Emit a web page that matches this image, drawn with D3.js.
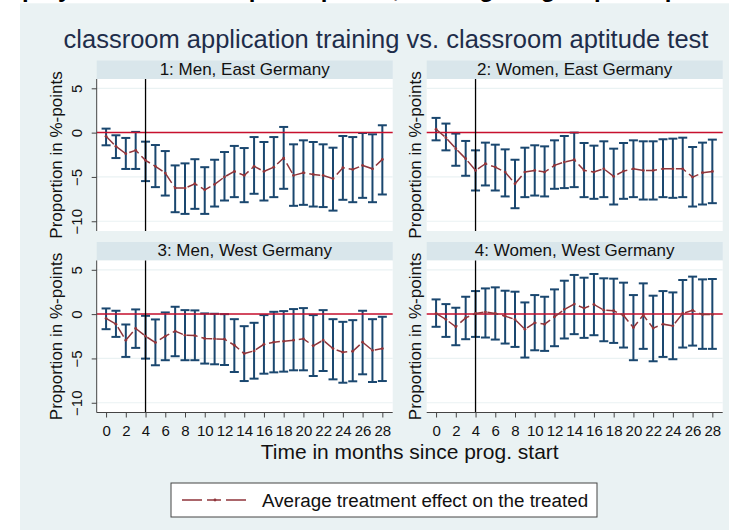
<!DOCTYPE html>
<html>
<head>
<meta charset="utf-8">
<script src="https://cdn.jsdelivr.net/npm/d3@7/dist/d3.min.js"></script>
<style>
  body { margin: 0; background: #fff; }
  svg { display: block; font-family: "Liberation Sans", Arial, sans-serif; }
</style>
</head>
<body>
<svg id="chart" width="729" height="530"></svg>
<script>
// months since programme start
const months = [0, 1, 2, 3, 4, 5, 6, 7, 8, 9, 10, 11, 12, 13, 14, 15, 16, 17, 18, 19, 20, 21, 22, 23, 24, 25, 26, 27, 28];
const xTicks = [0, 2, 4, 6, 8, 10, 12, 14, 16, 18, 20, 22, 24, 26, 28];
const yTicks = [5, 0, -5, -10];

// 1: Men, East Germany
const menEastAtt = [-0.42, -1.55, -2.38, -2.0, -3.13, -3.8, -4.57, -6.26, -6.26, -5.77, -6.45, -5.85, -5.0, -4.38, -4.83, -3.8, -4.38, -3.9, -2.87, -4.83, -4.53, -4.72, -4.83, -5.2, -3.96, -4.15, -3.7, -4.08, -3.02];
const menEastHi = [0.45, -0.3, -0.6, 0.08, -1.02, -1.4, -2.08, -3.7, -3.47, -3.0, -3.9, -3.06, -2.19, -1.5, -1.74, -0.5, -1.06, -0.5, 0.64, -1.32, -0.87, -1.06, -1.32, -1.7, -0.38, -0.5, -0.04, -0.19, 0.83];
const menEastLo = [-1.43, -2.87, -4.1, -4.1, -5.47, -6.15, -7.1, -8.98, -9.17, -8.6, -9.17, -8.34, -7.66, -7.28, -7.85, -6.9, -7.66, -7.28, -6.34, -8.26, -8.15, -8.34, -8.4, -8.8, -7.58, -7.85, -7.36, -7.85, -6.98];

// 2: Women, East Germany
const womenEastAtt = [0.38, -0.57, -1.81, -2.94, -4.26, -3.51, -3.89, -4.45, -5.77, -4.45, -4.26, -4.45, -3.7, -3.32, -3.06, -4.26, -4.45, -4.08, -4.94, -4.34, -4.08, -4.26, -4.26, -4.08, -4.08, -4.08, -5.02, -4.53, -4.38];
const womenEastHi = [1.66, 1.02, -0.11, -0.94, -2.0, -1.13, -1.36, -1.89, -3.06, -1.7, -1.43, -1.55, -0.87, -0.38, 0.0, -1.17, -1.47, -0.98, -1.81, -1.17, -0.87, -0.98, -0.98, -0.75, -0.68, -0.57, -1.62, -1.13, -0.79];
const womenEastLo = [-0.87, -2.0, -3.74, -4.87, -6.53, -5.96, -6.53, -7.2, -8.53, -7.28, -7.1, -7.2, -6.34, -6.26, -6.15, -7.28, -7.47, -7.28, -8.11, -7.47, -7.28, -7.55, -7.55, -7.28, -7.36, -7.28, -8.34, -8.11, -7.96];

// 3: Men, West Germany
const menWestAtt = [-0.49, -1.13, -2.94, -1.62, -2.49, -3.21, -2.49, -1.92, -2.38, -2.42, -2.75, -2.79, -2.83, -3.51, -4.45, -4.15, -3.4, -3.17, -3.06, -2.94, -2.79, -3.58, -2.94, -3.89, -4.3, -4.19, -3.17, -4.08, -3.89];
const menWestHi = [0.64, 0.38, -1.17, 0.53, -0.19, -0.6, 0.19, 0.83, 0.45, 0.42, 0.08, 0.04, 0.0, -0.57, -1.36, -0.98, -0.11, 0.26, 0.34, 0.57, 0.68, -0.11, 0.45, -0.57, -0.87, -0.68, 0.38, -0.57, -0.3];
const menWestLo = [-1.7, -2.57, -4.83, -3.81, -5.02, -5.77, -5.2, -4.75, -5.2, -5.2, -5.58, -5.66, -5.74, -6.53, -7.55, -7.28, -6.72, -6.57, -6.49, -6.34, -6.34, -6.98, -6.42, -7.36, -7.74, -7.58, -6.79, -7.66, -7.55];

// 4: Women, West Germany
const womenWestAtt = [0.08, -0.6, -1.43, -0.42, 0.08, 0.23, 0.08, -0.23, -0.6, -1.7, -0.98, -1.13, -0.3, 0.53, 1.13, 0.68, 1.09, 0.45, 0.38, -0.15, -1.51, -0.11, -1.58, -1.13, -1.32, 0.08, 0.42, -0.04, -0.04];
const womenWestHi = [1.66, 1.13, 0.72, 1.96, 2.6, 2.9, 3.02, 2.64, 2.53, 1.32, 2.15, 1.96, 2.79, 3.77, 4.42, 4.11, 4.53, 4.04, 4.0, 3.55, 2.15, 3.47, 2.08, 2.6, 2.45, 3.85, 4.23, 3.92, 3.96];
const womenWestLo = [-1.43, -2.57, -3.51, -2.83, -2.57, -2.64, -2.87, -3.32, -3.7, -4.9, -4.08, -4.15, -3.62, -2.75, -2.26, -2.68, -2.38, -3.06, -3.25, -3.77, -5.2, -3.92, -5.32, -4.83, -5.09, -3.77, -3.55, -3.92, -3.92];

const panelTitles = ['1: Men, East Germany', '2: Women, East Germany', '3: Men, West Germany', '4: Women, West Germany'];
const programmeMonth = 4;

const BG = '#eaf2f3';
const STRIP = '#d9e6eb';
const NAVY = '#1a476f';
const MAROON = '#90353b';
const ZERO_RED = '#c8102e';

const PANEL_W = 296;
const PLOT_H = 152;
const STRIP_H = 18.5;
const colLeft = [96.7, 426.7];
const rowTop = [79, 260.5];

const svg = d3.select('#chart');

svg.append('rect')
   .attr('x', 20).attr('y', 3.3)
   .attr('width', 709).attr('height', 527)
   .attr('fill', BG);

// heading of the page above the figure, cut off by the crop
svg.append('text')
   .attr('x', 386).attr('y', -3.5)
   .attr('text-anchor', 'middle')
   .attr('font-size', 24).attr('font-weight', 'bold')
   .attr('fill', '#000')
   .text('Employment effects of participation, training vs. group comparison up');

svg.append('text')
   .attr('x', 386).attr('y', 48)
   .attr('text-anchor', 'middle')
   .attr('font-size', 25.5)
   .attr('fill', '#1e2d4a')
   .text('classroom application training vs. classroom aptitude test');

const x = d3.scaleLinear().domain([-0.95, 29.05]).range([0, PANEL_W]);
const y = d3.scaleLinear().domain([-11.1, 6.05]).range([PLOT_H, 0]);

const panels = [
  {title: panelTitles[0], att: menEastAtt, lo: menEastLo, hi: menEastHi, col: 0, row: 0},
  {title: panelTitles[1], att: womenEastAtt, lo: womenEastLo, hi: womenEastHi, col: 1, row: 0},
  {title: panelTitles[2], att: menWestAtt, lo: menWestLo, hi: menWestHi, col: 0, row: 1},
  {title: panelTitles[3], att: womenWestAtt, lo: womenWestLo, hi: womenWestHi, col: 1, row: 1},
];

function drawPanel(p) {
  const g = svg.append('g')
               .attr('transform', 'translate(' + colLeft[p.col] + ',' + rowTop[p.row] + ')');
  const rows = months.map((m, i) => ({m: m, att: p.att[i], lo: p.lo[i], hi: p.hi[i]}));

  // strip
  g.append('rect')
   .attr('x', 0).attr('y', -STRIP_H)
   .attr('width', PANEL_W).attr('height', STRIP_H)
   .attr('fill', STRIP);
  g.append('text')
   .attr('x', PANEL_W / 2).attr('y', -4.5)
   .attr('text-anchor', 'middle')
   .attr('font-size', 17)
   .attr('fill', '#111')
   .text(p.title);

  g.append('rect')
   .attr('width', PANEL_W).attr('height', PLOT_H)
   .attr('fill', '#fff');

  g.selectAll('.grid')
   .data(yTicks)
   .enter()
   .append('line')
   .attr('class', 'grid')
   .attr('x1', 0).attr('x2', PANEL_W)
   .attr('y1', (d) => y(d)).attr('y2', (d) => y(d))
   .attr('stroke', BG).attr('stroke-width', 1.2);

  // confidence intervals
  const bars = g.selectAll('.ci')
                .data(rows)
                .enter()
                .append('g')
                .attr('class', 'ci')
                .attr('stroke', NAVY)
                .attr('stroke-width', 2);
  bars.append('line')
      .attr('x1', (d) => x(d.m)).attr('x2', (d) => x(d.m))
      .attr('y1', (d) => y(d.hi)).attr('y2', (d) => y(d.lo));
  bars.append('line')
      .attr('x1', (d) => x(d.m) - 4.5).attr('x2', (d) => x(d.m) + 4.5)
      .attr('y1', (d) => y(d.hi)).attr('y2', (d) => y(d.hi));
  bars.append('line')
      .attr('x1', (d) => x(d.m) - 4.5).attr('x2', (d) => x(d.m) + 4.5)
      .attr('y1', (d) => y(d.lo)).attr('y2', (d) => y(d.lo));

  g.append('line')
   .attr('x1', 0).attr('x2', PANEL_W)
   .attr('y1', y(0)).attr('y2', y(0))
   .attr('stroke', ZERO_RED).attr('stroke-width', 1.5);
  g.append('line')
   .attr('x1', x(programmeMonth)).attr('x2', x(programmeMonth))
   .attr('y1', 0).attr('y2', PLOT_H)
   .attr('stroke', '#000').attr('stroke-width', 1.3);

  const line = d3.line().x((d) => x(d.m)).y((d) => y(d.att));
  g.append('path')
   .datum(rows)
   .attr('d', line)
   .attr('fill', 'none')
   .attr('stroke', MAROON)
   .attr('stroke-width', 1.5)
   .attr('stroke-dasharray', '11,4');
  g.selectAll('.pt')
   .data(rows)
   .enter()
   .append('circle')
   .attr('class', 'pt')
   .attr('cx', (d) => x(d.m)).attr('cy', (d) => y(d.att))
   .attr('r', 1.4)
   .attr('fill', MAROON);

  drawAxes(g, p);
}

function drawAxes(g, p) {
  const titleX = p.col == 0 ? -35 : -5.7;
  g.append('text')
   .attr('transform', 'translate(' + titleX + ',' + (PLOT_H / 2) + ') rotate(-90)')
   .attr('text-anchor', 'middle')
   .attr('font-size', 17)
   .attr('fill', '#111')
   .text('Proportion in %-points');

  if (p.col == 0) {
    const yAxis = g.append('g')
                   .call(d3.axisLeft(y).tickValues(yTicks).tickSize(5).tickPadding(3)
                           .tickFormat(d3.format('d')));
    yAxis.select('.domain').attr('d', 'M0,0V' + PLOT_H).attr('stroke', '#444');
    yAxis.selectAll('.tick line').attr('stroke', '#444');
    yAxis.selectAll('.tick text')
         .attr('transform', 'rotate(-90)')
         .attr('x', 0).attr('y', -14.5)
         .attr('dy', 0)
         .attr('text-anchor', 'middle')
         .attr('font-family', '"Liberation Sans", Arial, sans-serif')
         .attr('font-size', 15)
         .attr('fill', '#111');
  }

  if (p.row == 1) {
    const xAxis = g.append('g')
                   .attr('transform', 'translate(0,' + PLOT_H + ')')
                   .call(d3.axisBottom(x).tickValues(xTicks).tickSize(5).tickPadding(8)
                           .tickFormat(d3.format('d')));
    xAxis.select('.domain').attr('d', 'M0,0H' + PANEL_W).attr('stroke', '#444');
    xAxis.selectAll('.tick line').attr('stroke', '#444');
    xAxis.selectAll('.tick text')
         .attr('font-family', '"Liberation Sans", Arial, sans-serif')
         .attr('font-size', 15)
         .attr('fill', '#111');
  }
}

function drawLegend() {
  const lg = svg.append('g').attr('transform', 'translate(171,483)');
  lg.append('rect')
    .attr('width', 426).attr('height', 34)
    .attr('fill', '#fff')
    .attr('stroke', '#444').attr('stroke-width', 1);
  lg.append('line')
    .attr('x1', 11).attr('x2', 77)
    .attr('y1', 17).attr('y2', 17)
    .attr('stroke', MAROON).attr('stroke-width', 1.5)
    .attr('stroke-dasharray', '20,5,14,5');
  lg.append('circle')
    .attr('cx', 44).attr('cy', 17).attr('r', 1.4)
    .attr('fill', MAROON);
  lg.append('text')
    .attr('x', 91).attr('y', 24)
    .attr('font-size', 18.8)
    .attr('fill', '#111')
    .text('Average treatment effect on the treated');
}

panels.forEach(drawPanel);

svg.append('text')
   .attr('x', 409.7).attr('y', 459)
   .attr('text-anchor', 'middle')
   .attr('font-size', 21)
   .attr('fill', '#111')
   .text('Time in months since prog. start');

drawLegend();
</script>
</body>
</html>
